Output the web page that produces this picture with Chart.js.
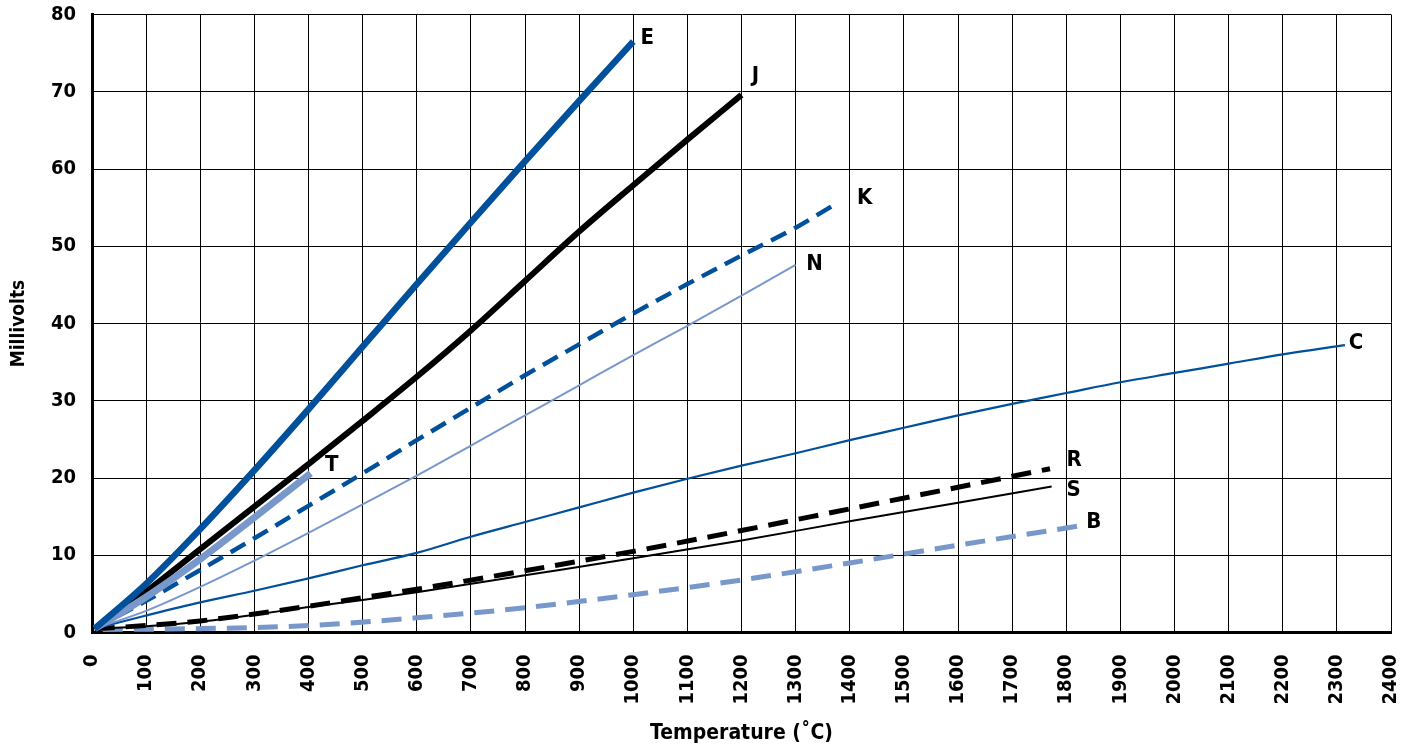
<!DOCTYPE html>
<html>
<head>
<title>Thermocouple millivolts vs temperature</title>
<script src="https://cdn.jsdelivr.net/npm/chart.js"></script>
<style>
  html, body { margin: 0; padding: 0; background: #fff; }
  #wrap { width: 1411px; height: 749px; }
</style>
</head>
<body>
<div id="wrap"><canvas id="tcChart"></canvas></div>
<script>
// temperatures (degC) and output (mV), one pair of arrays per type
const eTemp = [5, 100, 200, 300, 400, 500, 600, 700, 800, 900, 1000];
const eMv   = [0.5, 6.3, 13.4, 21.0, 28.9, 37.0, 45.1, 53.1, 61.0, 68.8, 76.5];

const tTemp = [5, 100, 200, 300, 404];
const tMv   = [0.5, 4.6, 9.5, 14.9, 20.6];

const jTemp = [5, 100, 200, 300, 400, 500, 600, 700, 800, 900, 1000, 1100, 1200];
const jMv   = [0.5, 5.3, 10.8, 16.3, 21.8, 27.4, 33.1, 39.1, 45.5, 51.9, 57.9, 63.8, 69.6];

const kTemp = [5, 100, 200, 300, 400, 500, 600, 700, 800, 900, 1000, 1100, 1200, 1300, 1372];
const kMv   = [0.5, 4.1, 8.1, 12.2, 16.4, 20.6, 24.9, 29.1, 33.3, 37.3, 41.3, 45.1, 48.8, 52.4, 55.4];

const nTemp = [5, 100, 200, 300, 400, 500, 600, 700, 800, 900, 1000, 1100, 1200, 1300];
const nMv   = [0.5, 2.8, 5.9, 9.3, 12.9, 16.6, 20.3, 24.2, 28.1, 32.0, 35.9, 39.7, 43.6, 47.6];

const cTemp = [5, 100, 200, 300, 400, 500, 600, 700, 800, 900, 1000, 1100, 1200, 1300, 1400, 1500, 1600, 1700, 1800, 1900, 2000, 2100, 2200, 2315];
const cMv   = [0.5, 2.2, 3.9, 5.4, 7.0, 8.7, 10.3, 12.4, 14.3, 16.2, 18.1, 19.9, 21.6, 23.2, 24.9, 26.5, 28.1, 29.6, 31.0, 32.4, 33.6, 34.8, 36.0, 37.2];

const rTemp = [5, 100, 200, 300, 400, 500, 600, 800, 1000, 1200, 1400, 1600, 1770];
const rMv   = [0.5, 0.9, 1.5, 2.4, 3.4, 4.5, 5.6, 8.0, 10.5, 13.2, 16.0, 18.8, 21.2];

const sTemp = [5, 100, 200, 300, 400, 500, 600, 800, 1000, 1200, 1400, 1600, 1773];
const sMv   = [0.5, 0.8, 1.4, 2.3, 3.3, 4.2, 5.2, 7.4, 9.6, 11.9, 14.4, 16.8, 18.9];

const bTemp = [20, 200, 400, 600, 800, 1000, 1200, 1400, 1600, 1825];
const bMv   = [0.4, 0.5, 0.9, 1.9, 3.2, 4.9, 6.8, 9.0, 11.3, 13.8];

const xTicks = { min: 0, max: 2400, step: 100 };
const yTicks = { min: 0, max: 80, step: 10 };

const DARK = '#00509b';
const LIGHT = '#7898cb';
const FONT = '"Liberation Sans Narrow", "Arial Narrow", "DejaVu Sans Condensed", "DejaVu Sans", sans-serif';

function pts(t, v) {
  return t.map((x, i) => ({ x: x, y: v[i] }));
}

function series(name, t, v, color, width, dash, dx, dy) {
  return {
    label: name,
    data: pts(t, v),
    borderColor: color,
    backgroundColor: color,
    borderWidth: width,
    borderDash: dash,
    borderCapStyle: 'butt',
    pointRadius: 0,
    fill: false,
    cubicInterpolationMode: 'monotone',
    tagDx: dx,
    tagDy: dy
  };
}

// write the type letter next to the end of each curve
const endTags = {
  id: 'endTags',
  afterDatasetsDraw(chart) {
    const ctx = chart.ctx;
    const xs = chart.scales.x, ys = chart.scales.y;
    ctx.save();
    ctx.font = 'bold condensed 22px ' + FONT;
    ctx.fillStyle = '#000';
    ctx.textAlign = 'center';
    ctx.textBaseline = 'middle';
    chart.data.datasets.forEach(ds => {
      const last = ds.data[ds.data.length - 1];
      ctx.fillText(ds.label, xs.getPixelForValue(last.x) + ds.tagDx, ys.getPixelForValue(last.y) + ds.tagDy);
    });
    ctx.restore();
  }
};

const plain = v => String(v);

const ctx = document.getElementById('tcChart').getContext('2d');
const chart = new Chart(ctx, {
  type: 'line',
  data: {
    datasets: [
      series('E', eTemp, eMv, DARK, 6.5, [], 14, -3),
      series('T', tTemp, tMv, LIGHT, 7, [], 21, -8),
      series('J', jTemp, jMv, '#000', 6, [], 14, -19),
      series('K', kTemp, kMv, DARK, 4.5, [17, 9], 30, -6),
      series('N', nTemp, nMv, LIGHT, 2, [], 19, -1),
      series('C', cTemp, cMv, DARK, 2.2, [], 11, -2),
      series('R', rTemp, rMv, '#000', 5, [20, 11], 24, -8),
      series('S', sTemp, sMv, '#000', 2, [], 22, 4),
      series('B', bTemp, bMv, LIGHT, 5, [20, 11], 14, -4)
    ]
  },
  options: {
    responsive: true,
    maintainAspectRatio: false,
    animation: false,
    layout: { padding: { top: 14.5, right: 20, bottom: 0, left: 0 } },
    plugins: {
      legend: { display: false },
      tooltip: { enabled: false }
    },
    scales: {
      x: {
        type: 'linear',
        min: xTicks.min,
        max: xTicks.max,
        afterFit(scale) {
          scale.height = 116.5;
          scale.paddingLeft = 0;
          scale.paddingRight = 0;
        },
        ticks: {
          stepSize: xTicks.step,
          minRotation: 90,
          maxRotation: 90,
          padding: 22,
          color: '#000',
          callback: plain,
          font: { family: FONT, size: 20, weight: 'bold condensed' }
        },
        grid: { color: '#000', lineWidth: 1, drawTicks: false },
        border: { color: '#000', width: 3 },
        title: {
          display: true,
          text: 'Temperature (˚C)',
          color: '#000',
          font: { family: FONT, size: 21, weight: 'bold condensed' },
          padding: { top: 0, bottom: 3 }
        }
      },
      y: {
        type: 'linear',
        min: yTicks.min,
        max: yTicks.max,
        afterFit(scale) {
          scale.width = 92;
          scale.paddingTop = 0;
          scale.paddingBottom = 0;
        },
        ticks: {
          stepSize: yTicks.step,
          padding: 16,
          color: '#000',
          callback: plain,
          font: { family: FONT, size: 20, weight: 'bold condensed' }
        },
        grid: { color: '#000', lineWidth: 1, drawTicks: false },
        border: { color: '#000', width: 3 },
        title: {
          display: true,
          text: 'Millivolts',
          color: '#000',
          font: { family: FONT, size: 19, weight: 'bold condensed' },
          padding: { top: 8, bottom: 0 }
        }
      }
    }
  },
  plugins: [endTags]
});
</script>
</body>
</html>
